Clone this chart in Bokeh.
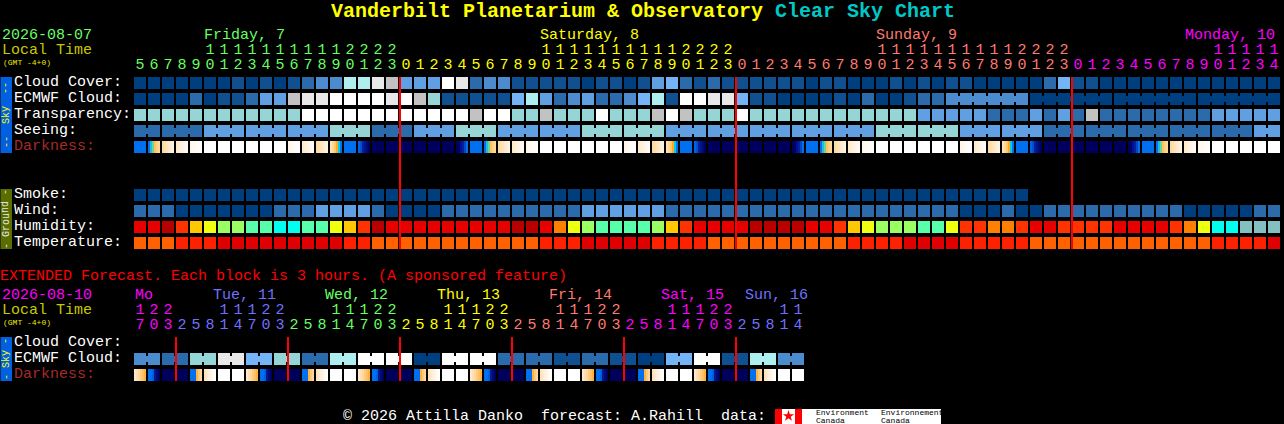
from bokeh.plotting import figure
from bokeh.models import Range1d
from bokeh.core.properties import value
from bokeh.embed import file_html
from bokeh.resources import INLINE

# ---------- palettes (category code -> colour)
SKY = {"a": "#003f7f", "b": "#115090", "c": "#2b6bab", "d": "#4c8cce", "e": "#5f9fe2", "E": "#74b4f6",
       "f": "#aeeeee", "t": "#95d5d5", "w": "#ffffff", "g": "#e8e8e8", "h": "#c2c2c2"}
HUM = {"r": "#e60000", "D": "#b80000", "O": "#ff3300", "o": "#ff8000", "Y": "#ffc800", "y": "#eeff10",
       "g": "#9aff60", "m": "#58ffaa", "C": "#00ffee", "x": "#85c0c0"}
TEMP = {"N": "#ff6000", "T": "#ff2000", "U": "#e00000"}
DARK = {
    "B": ["#0070f0"] * 6,
    "S": ["#0070f0", "#20c0d0", "#70d0a0", "#ffc060", "#ffd080", "#ffd898"],
    "C": ["#ffdaa0", "#ffdfae", "#ffe4bc", "#ffe9ca", "#ffeed6", "#fff2e0"],
    "P": ["#ffeacc", "#ffeed6", "#fff1de", "#fff4e6", "#fff7ec", "#fffaf2"],
    "p": ["#fff6ea", "#fff8ef", "#fffaf3", "#fffbf6", "#fffdf9", "#fffefc"],
    "W": ["#ffffff"] * 6,
    "s": ["#ffe2b4", "#ffd898", "#ffc868", "#ffa828", "#00d0f0", "#0070f0"],
    "G": ["#0064e8", "#0050d0", "#0020a0", "#001488", "#000a70", "#000060"],
    "N": ["#00005c"] * 6,
    "D": ["#00005c", "#000070", "#001090", "#0020a0", "#0048c8", "#0070f0"],
    "X": ["#ffe8c8", "#ffe0b4", "#ffd8a0", "#ffcc80", "#ffc060", "#ffb040"],
    "Y": ["#0070f0", "#0070f0", "#0060e0", "#001890", "#000c70", "#000060"],
    "Z": ["#0070f0", "#0070f0", "#0070f0", "#ffb040", "#ffc878", "#ffd898"],
    "Q": ["#ffe4bc", "#ffeace", "#fff0de", "#fff6ea", "#fffbf4", "#ffffff"],
}

# ---------- hourly forecast: letters in one token are joined blocks, a space is a real gap
cloud_cover = " ".join("aaaaaaababa" "bcdd" "ffgh" "eee" "wgcdd" "bbbbb" "abbab" "eE" "cbcb" "bbbbb"
                       "abb" "aaa" "bababb" "aaaaa" "cE" "bb" "aaaaaaaaaaaaa")
ecmwf_cloud = " ".join("aaaacabbceehggwwwwgwh" "tbbbbbEfecdeccdEfbwwggEbbaaaaba" "caabcc") + \
    " dddddd aaaaaa aaaaaa aaaaaa"
transparency = " ".join("tttttttttttt" "wwwwwwwwwwww" "h" "ww" "tt" "h" "ttt" "w" "ttt" "h" "w" "h" "ttt" "w"
                        "tttttttttttt" "eeeee" "ccc" "ecech" "cccccccc" "eeeee")
seeing = ("cc ccc eee eee eee ttt ccc eee ttt eee eee ttt ttt eee eee eee eee eee ttt ttt eee eee "
          "ccc ccc ccc ccc ccc ee")
darkness = ("BSCPpWWWWWWpPCsBGNNNNNND" "BSCPpWWWWWWpPCsBGNNNNNND" "BSCPpWWWWWWpPCsBGNNNNNND"
            "BSCPpWWWWW")
smoke = " ".join("a" * 64)
wind = " ".join("ccc" "aaaaaaa" "ccc" "eeee" "c" "aaaa" "cccccccccc" "eeeeee" "ccccccccccccccccccccc"
                "aaa" "c" "aa" "cccccccccc" "aaaaa" "cc")
humidity = " ".join("rrDOYyggmmCCmmyYODrrr" "rrrrrrDDroygmmmmgYOrrrrDDDDrrOY" "yggg" "mmyOOooOrrOOOOrrrrOoyCCxxx")
temperature = " ".join("NNNTTTUUUUUUUUUTTNNNNNNNNNNNNTTTUUUUUTTTTNNNNNNNNNNTTTTUUUUTTTTT"
                       "NNNNNNNNNNNNNTTTTU")

hours = [5, 6, 7, 8, 9, 10, 11, 12, 13, 14, 15, 16, 17, 18, 19, 20, 21, 22, 23,
         0, 1, 2, 3, 4, 5, 6, 7, 8, 9, 10, 11, 12, 13, 14, 15, 16, 17, 18, 19, 20, 21, 22, 23,
         0, 1, 2, 3, 4, 5, 6, 7, 8, 9, 10, 11, 12, 13, 14, 15, 16, 17, 18, 19, 20, 21, 22, 23,
         0, 1, 2, 3, 4, 5, 6, 7, 8, 9, 10, 11, 12, 13, 14]
midnights = [19, 43, 67]

# ---------- extended forecast (3 hourly)
ext_ecmwf = "dd cc tt gg EE tt cc ff ww ww aa ww ww cc cc bb cc bb aa EE ww bb ff dd"
ext_darkness = "XYNNZQWW" "XYNNZQWW" "XYNNZQWW" "XYNNZQWW" "XYNNZQWW" "XYNNZQWW"
ext_hours = [17, 20, 23, 2, 5, 8, 11, 14, 17, 20, 23, 2, 5, 8, 11, 14, 17, 20, 23, 2, 5, 8, 11, 14,
             17, 20, 23, 2, 5, 8, 11, 14, 17, 20, 23, 2, 5, 8, 11, 14, 17, 20, 23, 2, 5, 8, 11, 14]
ext_midnights = [3, 11, 19, 27, 35, 43]

GREEN, YEL, SAL, MAG, PER = "#66ff66", "#ffff00", "#ff7a70", "#ff00ff", "#7070ff"
day_colours = [(0, 19, GREEN), (19, 43, YEL), (43, 67, SAL), (67, 82, MAG)]
ext_colours = [(0, 3, MAG), (3, 11, PER), (11, 19, GREEN), (19, 27, YEL), (27, 35, SAL), (35, 43, MAG), (43, 48, PER)]
day_labels = [("Friday, 7", 204, GREEN), ("Saturday, 8", 540, YEL), ("Sunday, 9", 876, SAL), ("Monday, 10", 1185, MAG)]
ext_labels = [("Mo", 135, MAG), ("Tue, 11", 213, PER), ("Wed, 12", 325, GREEN), ("Thu, 13", 437, YEL),
              ("Fri, 14", 549, SAL), ("Sat, 15", 661, MAG), ("Sun, 16", 745, PER)]

# ---------- layout
STEP, X0, BLOCK = 14.0, 134.0, 12
FONT = value("Liberation Mono")
NB = "\u00a0"


def px(x):
    return (x - X0) / STEP


# the renderer shifts everything by half a pixel: the ranges shift back so blocks land on whole pixels
p = figure(width=1284, height=424, output_backend="svg", toolbar_location=None,
           x_range=Range1d(px(0.5), px(1284.5)), y_range=Range1d(424.5, 0.5),
           x_axis_type=None, y_axis_type=None, min_border=0,
           background_fill_color="#000000", border_fill_color="#000000", outline_line_color=None)
p.grid.visible = False


def blocks(row, top, palette):
    left, right, col, bl, br, bc = [], [], [], [], [], []
    c = 0
    for token in row.split(" "):
        for i, code in enumerate(token):
            left.append(c)
            right.append(c + BLOCK / STEP)
            col.append(palette[code])
            if i + 1 < len(token):
                bl.append(c + BLOCK / STEP)
                br.append(c + 1)
                bc.append(palette[code])
            c += 1
    p.quad(left=left, right=right, top=top, bottom=top + BLOCK, fill_color=col, line_color=None)
    if bl:
        p.quad(left=bl, right=br, top=top + 3, bottom=top + 9, fill_color=bc, line_color=None)


def grads(row, top):
    l, r, c = [], [], []
    for i, code in enumerate(row):
        for j, colour in enumerate(DARK[code]):
            l.append(i + j * 2 / STEP)
            r.append(i + (j + 1) * 2 / STEP)
            c.append(colour)
    p.quad(left=l, right=r, top=top, bottom=top + BLOCK, fill_color=c, line_color=None)


def label(x, y, text, colour, size="15px", **kw):
    kw.setdefault("text_align", "left")
    p.text(x=[px(x)], y=[y], text=[text], text_color=colour, text_font=FONT, text_font_size=size,
           text_baseline="middle", **kw)


# hourly rows
blocks(cloud_cover, 77, SKY)
blocks(ecmwf_cloud, 93, SKY)
blocks(transparency, 109, SKY)
blocks(seeing, 125, SKY)
grads(darkness, 141)
blocks(smoke, 189, SKY)
blocks(wind, 205, SKY)
blocks(humidity, 221, HUM)
blocks(temperature, 237, TEMP)
p.segment(x0=midnights, x1=midnights, y0=[77] * 3, y1=[249] * 3, line_color="#ff0000", line_width=2)

# extended rows
blocks(ext_ecmwf, 353, SKY)
grads(ext_darkness, 369)
p.segment(x0=ext_midnights, x1=ext_midnights, y0=[337] * 6, y1=[381] * 6, line_color="#ff0000", line_width=2)


def hour_axis(hrs, spans, y_tens, y_units):
    for a, b, colour in spans:
        xs = [i + 6 / STEP for i in range(a, b)]
        p.text(x=xs, y=[y_units] * len(xs), text=[str(h % 10) for h in hrs[a:b]], text_color=colour,
               text_font=FONT, text_font_size="15px", text_align="center", text_baseline="middle")
        p.text(x=xs, y=[y_tens] * len(xs), text=[str(h // 10) if h >= 10 else "" for h in hrs[a:b]],
               text_color=colour, text_font=FONT, text_font_size="15px", text_align="center", text_baseline="middle")


hour_axis(hours, day_colours, 49, 64)
hour_axis(ext_hours, ext_colours, 309, 324)

# titles
label(331, 11, "Vanderbilt Planetarium & Observatory", "#ffff00", "20px", text_font_style="bold")
label(775, 11, "Clear Sky Chart", "#00c8c8", "20px", text_font_style="bold")

label(2, 34, "2026-08-07", GREEN)
label(2, 50, "Local Time", "#c8c800")
label(3, 62, "(GMT -4+0)", "#e8e800", "8px")
for t, x, c in day_labels:
    label(x, 35, t, c)

for t, y, c in [("Cloud Cover:", 82, "#ffffff"), ("ECMWF Cloud:", 98, "#ffffff"), ("Transparency:", 114, "#ffffff"),
                ("Seeing:", 130, "#ffffff"), ("Darkness:", 146, "#a52a2a"),
                ("Smoke:", 194, "#ffffff"), ("Wind:", 210, "#ffffff"), ("Humidity:", 226, "#ffffff"),
                ("Temperature:", 242, "#ffffff"),
                ("Cloud Cover:", 342, "#ffffff"), ("ECMWF Cloud:", 358, "#ffffff"), ("Darkness:", 374, "#a52a2a")]:
    label(14, y, t, c)

label(0, 276, "EXTENDED Forecast. Each block is 3 hours. (A sponsored feature)", "#ff0000")
label(2, 294, "2026-08-10", MAG)
label(2, 310, "Local Time", "#c8c800")
label(3, 322, "(GMT -4+0)", "#e8e800", "8px")
for t, x, c in ext_labels:
    label(x, 295, t, c)

# side strips
for top, bottom, fill, txt, colour in [(77, 153, "#0060e0", f"--{NB}{NB}Sky{NB}{NB}--", "#ffff00"),
                                       (189, 249, "#5a6e00", "- Ground -", "#e8e8e8"),
                                       (337, 381, "#0060e0", "- Sky -", "#ffff00")]:
    p.quad(left=[px(0)], right=[px(12)], top=top, bottom=bottom, fill_color=fill, line_color=None)
    label(6, (top + bottom) / 2, txt, colour, "10px", angle=1.5708, text_align="center")

# footer
label(343, 416, f"\u00a9 2026 Attilla Danko{NB}{NB}forecast: A.Rahill{NB}{NB}data:", "#ffffff")
p.quad(left=[px(775)], right=[px(941)], top=409, bottom=424, fill_color="#ffffff", line_color=None)
p.quad(left=[px(775), px(795)], right=[px(782), px(802)], top=409, bottom=424, fill_color="#ff0000", line_color=None)
p.scatter(x=[px(788.5)], y=[416], marker="star", size=12, fill_color="#ff0000", line_color=None)
for x, a, b in [(816, "Environment", "Canada"), (881, "Environnement", "Canada")]:
    label(x, 412.5, a, "#000000", "8px")
    label(x, 420, b, "#000000", "8px")

page = file_html(p, INLINE).replace("</head>", "<style>html,body{margin:0;padding:0;background:#000;overflow:hidden}</style></head>")
open("out.html", "w").write(page)
